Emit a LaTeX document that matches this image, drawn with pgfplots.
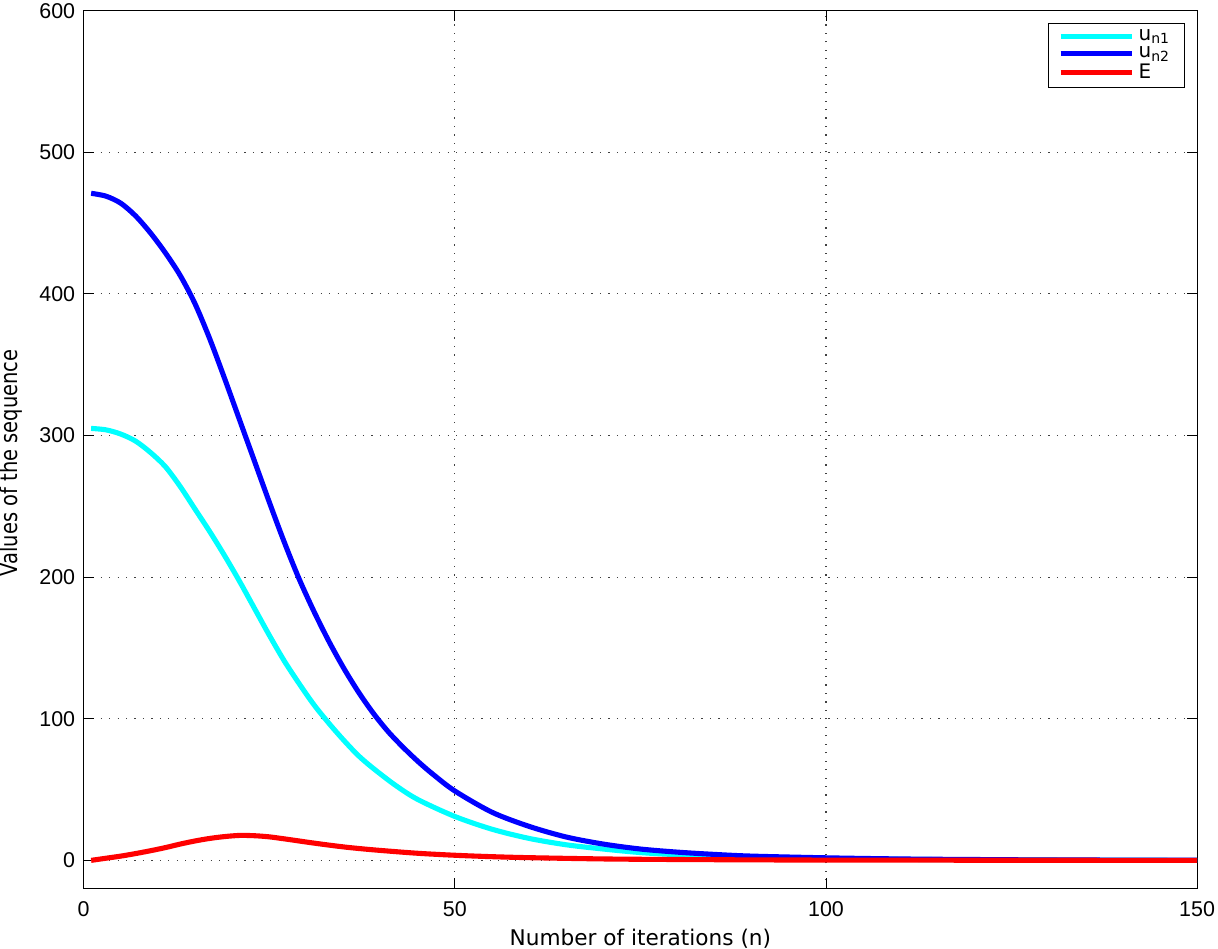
\documentclass[border=0pt]{standalone}
\usepackage{fontspec}
\setmainfont{Liberation Sans}
\newfontfamily\labelfont{DejaVu Sans}
\newfontfamily\narrowfont[FakeStretch=0.83]{DejaVu Sans}
\usepackage{pgfplots}
\pgfplotsset{compat=1.18}
\definecolor{Cyan}{RGB}{0,255,255}
\definecolor{Blue}{RGB}{0,0,255}
\definecolor{Red}{RGB}{255,0,0}

\pgfplotstableread{
n    u
1    471
3    469
5    464
7    455
9    443
11   429
13   413
15   393
17   368
19   340
21   311
23   282
25   253
27   225
29   199
31   176
33   155
35   136
37   119
39   104
41   91
43   80
45   70
47   61
50   49
55   34
60   24
65   16.5
70   11.5
75   8
80   5.8
85   4.2
90   3
100  1.8
110  1
120  0.6
130  0.3
150  0.1
}\seqtwo

\pgfplotstableread{
n    u
1    305
3    304
5    301
7    296
9    288
11   278
13   264
15   248
17   232
19   215
21   197
23   178
25   159
27   141
29   125
31   110
33   97
35   85
37   74
39   65
42   53
45   43
50   31
55   22
60   15.5
65   11
70   8
75   5.5
80   4
90   2
100  1.2
120  0.4
150  0
}\seqone

\pgfplotstableread{
n    u
1    0
3    1.5
5    3
7    4.8
9    6.8
11   9
13   11.5
15   13.7
17   15.5
19   16.8
21   17.6
23   17.4
25   16.6
27   15.2
29   13.7
31   12.2
33   10.8
35   9.5
37   8.4
40   7
45   5
50   3.6
55   2.6
60   1.9
70   1
80   0.6
100  0.2
150  0
}\err

\begin{document}
\begin{tikzpicture}
\begin{axis}[
  scale only axis,
  width=546pt, height=430.6pt,
  xmin=0, xmax=150, ymin=-20, ymax=600,
  xtick={0,50,100,150},
  ytick={0,100,...,600},
  tick align=inside,
  major tick length=5pt,
  tick style={black, thin},
  axis line style={black, thin},
  grid=major,
  major grid style={black!75, line width=0.55pt, dash pattern=on 0.55pt off 3.6pt},
  /pgf/number format/assume math mode=true,
  tick label style={font=\fontsize{10.5}{12}\selectfont, inner sep=0pt},
  xticklabel shift=6pt,
  yticklabel shift=4pt,
  xlabel={\labelfont\fontsize{10.6}{12}\selectfont Number of iterations (n)},
  ylabel={\narrowfont\fontsize{11.5}{12}\selectfont Values of the sequence},
  xlabel style={inner sep=0pt, yshift=-6pt},
  ylabel style={inner sep=0pt, yshift=8pt, xshift=-6.5pt},
  legend style={at={(1,1)}, anchor=north east, xshift=-6pt, yshift=-6pt,
    draw=black, thin,
    font=\labelfont\fontsize{9.8}{9.5}\selectfont, inner ysep=0.8pt, inner xsep=5pt,
    row sep=-2.4pt, cells={anchor=west}},
  legend image code/.code={\draw[#1, line width=2.5pt] (0pt,0pt) -- (35pt,0pt);},
  every axis plot/.append style={line width=2.5pt, smooth, tension=0.5},
]
\addplot[Cyan] table[x=n, y=u] {\seqone};
\addlegendentry{u\textsubscript{n1}}
\addplot[Blue] table[x=n, y=u] {\seqtwo};
\addlegendentry{u\textsubscript{n2}}
\addplot[Red] table[x=n, y=u] {\err};
\addlegendentry{E}
\end{axis}
\path ([shift={(1.5pt,1.5pt)}]current bounding box.north east);
\end{tikzpicture}
\end{document}
